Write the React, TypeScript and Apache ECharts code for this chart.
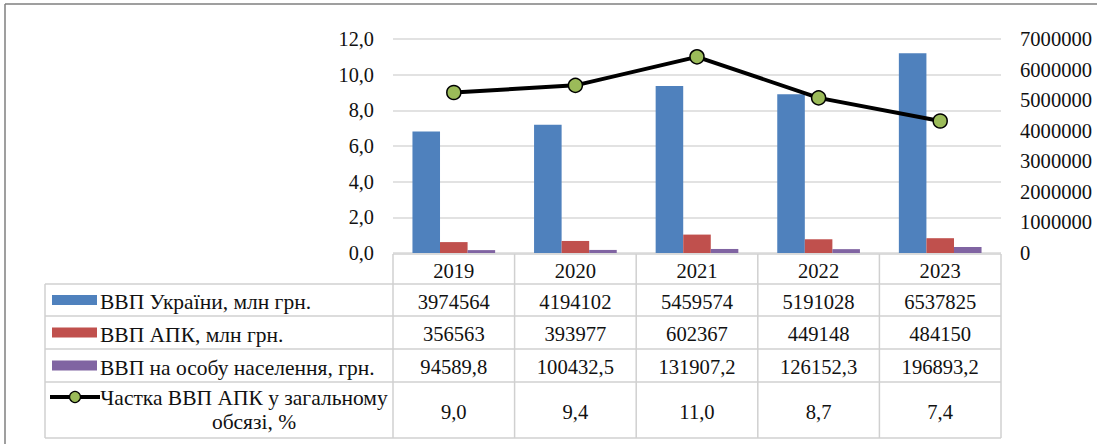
import React, { useEffect, useRef } from "react";
import * as echarts from "echarts";

const years = ["2019", "2020", "2021", "2022", "2023"];
const gdpUkraine = [3974564, 4194102, 5459574, 5191028, 6537825];
const gdpAgro = [356563, 393977, 602367, 449148, 484150];
const gdpPerCapita = [94589.8, 100432.5, 131907.2, 126152.3, 196893.2];
const agroShare = [9.0, 9.4, 11.0, 8.7, 7.4];

const seriesNames = [
  "ВВП України, млн грн.",
  "ВВП АПК, млн грн.",
  "ВВП на особу населення, грн.",
];
const shareNameLine1 = "Частка ВВП АПК у загальному";
const shareNameLine2 = "обсязі, %";

const W = 1097;
const H = 444;
const FONT = "'Liberation Serif', serif";
const BLUE = "#4F81BD";
const RED = "#C0504D";
const PURPLE = "#8064A2";
const GREEN = "#9BBB59";
const GRID_COLOR = "#D9D9D9";
const TABLE_COLOR = "#D0D0D0";
const TEXT = "#111";

// layout
const PLOT_L = 393;
const PLOT_R = 1001;
const PLOT_T = 39;
const PLOT_B = 253;
const TABLE_L = 45;
const HEADER_T = 254;
const ROW_Y = [284, 316, 349, 382, 438];

const fmt1 = (v: number) => v.toFixed(1).replace(".", ",");

export default function App() {
  const ref = useRef<HTMLDivElement>(null);
  useEffect(() => {
    if (!ref.current) return;
    const chart = echarts.init(ref.current, null, { renderer: "svg" });
    const n = years.length;
    const colW = (PLOT_R - PLOT_L) / n;
    const colX = years.map((_, i) => PLOT_L + colW * i);
    const lineStyle = { stroke: TABLE_COLOR, lineWidth: 1.5 };
    const g: any[] = [];

    // outer frame
    g.push({ type: "line", shape: { x1: 5, y1: 4, x2: W, y2: 4 }, style: { stroke: "#7F7F7F", lineWidth: 1.5 }, silent: true });
    g.push({ type: "line", shape: { x1: 5, y1: 4, x2: 5, y2: H }, style: { stroke: "#7F7F7F", lineWidth: 1.5 }, silent: true });

    // table horizontal lines
    g.push({ type: "line", shape: { x1: PLOT_L, y1: HEADER_T, x2: PLOT_R, y2: HEADER_T }, style: lineStyle, silent: true });
    ROW_Y.forEach((y) => {
      g.push({ type: "line", shape: { x1: TABLE_L, y1: y, x2: PLOT_R, y2: y }, style: lineStyle, silent: true });
    });
    // vertical lines
    g.push({ type: "line", shape: { x1: TABLE_L, y1: ROW_Y[0], x2: TABLE_L, y2: ROW_Y[4] }, style: lineStyle, silent: true });
    for (let i = 0; i <= n; i++) {
      const x = PLOT_L + colW * i;
      g.push({ type: "line", shape: { x1: x, y1: HEADER_T, x2: x, y2: ROW_Y[4] }, style: lineStyle, silent: true });
    }

    const textEl = (x: number, y: number, text: string, align: string = "center", size: number = 20.6) => ({
      type: "text",
      x,
      y,
      silent: true,
      style: { text, fill: TEXT, fontFamily: FONT, fontSize: size, textAlign: align, textVerticalAlign: "middle" },
    });

    // header
    years.forEach((yr, i) => g.push(textEl(colX[i] + colW / 2, (HEADER_T + ROW_Y[0]) / 2 + 1.5, yr)));

    const rows: string[][] = [
      gdpUkraine.map((v) => String(v)),
      gdpAgro.map((v) => String(v)),
      gdpPerCapita.map(fmt1),
      agroShare.map(fmt1),
    ];
    rows.forEach((vals, r) => {
      const cy = (ROW_Y[r] + ROW_Y[r + 1]) / 2 + 1.5;
      vals.forEach((v, i) => g.push(textEl(colX[i] + colW / 2, cy, v)));
    });

    // legend keys & names
    const keyColors = [BLUE, RED, PURPLE];
    keyColors.forEach((c, r) => {
      const cy = (ROW_Y[r] + ROW_Y[r + 1]) / 2;
      g.push({ type: "rect", shape: { x: 52, y: cy - 5, width: 45, height: 10 }, style: { fill: c }, silent: true });
      g.push(textEl(100, cy + 2, seriesNames[r], "left", 21.5));
    });
    const ly = 397;
    g.push({ type: "line", shape: { x1: 50, y1: ly, x2: 100, y2: ly }, style: { stroke: "#000", lineWidth: 4 }, silent: true });
    g.push({ type: "circle", shape: { cx: 75, cy: ly, r: 5.5 }, style: { fill: GREEN, stroke: "#000", lineWidth: 1.3 }, silent: true });
    g.push(textEl(244, ly + 1, shareNameLine1, "center", 21.5));
    g.push(textEl(254, ly + 25, shareNameLine2, "center", 21.5));

    chart.setOption({
      animation: false,
      textStyle: { fontFamily: FONT },
      graphic: g,
      grid: { left: PLOT_L, right: W - PLOT_R, top: PLOT_T, bottom: H - PLOT_B, containLabel: false },
      xAxis: {
        type: "category",
        data: years,
        axisLine: { show: false },
        axisTick: { show: false },
        axisLabel: { show: false },
      },
      yAxis: [
        {
          type: "value",
          min: 0,
          max: 12,
          interval: 2,
          axisLine: { show: false },
          axisTick: { show: false },
          axisLabel: {
            formatter: (v: number) => fmt1(v),
            color: TEXT,
            fontFamily: FONT,
            fontSize: 20.3,
            margin: 19,
          },
          splitLine: { lineStyle: { color: GRID_COLOR, width: 1.5 } },
        },
        {
          type: "value",
          min: 0,
          max: 7000000,
          interval: 1000000,
          position: "right",
          axisLine: { show: false },
          axisTick: { show: false },
          axisLabel: {
            color: TEXT,
            fontFamily: FONT,
            fontSize: 20.6,
            margin: 19,
            formatter: (v: number) => String(v),
          },
          splitLine: { show: false },
        },
      ],
      series: [
        { name: seriesNames[0], type: "bar", yAxisIndex: 1, data: gdpUkraine, itemStyle: { color: BLUE }, barGap: "0%", barCategoryGap: "32%" },
        { name: seriesNames[1], type: "bar", yAxisIndex: 1, data: gdpAgro, itemStyle: { color: RED }, barGap: "0%", barCategoryGap: "32%" },
        { name: seriesNames[2], type: "bar", yAxisIndex: 1, data: gdpPerCapita, itemStyle: { color: PURPLE }, barGap: "0%", barCategoryGap: "32%" },
        {
          name: shareNameLine1 + " " + shareNameLine2,
          type: "line",
          yAxisIndex: 0,
          data: agroShare,
          z: 5,
          symbol: "circle",
          symbolSize: 14,
          lineStyle: { color: "#000", width: 4 },
          itemStyle: { color: GREEN, borderColor: "#000", borderWidth: 1.5 },
        },
      ],
    });
    return () => chart.dispose();
  }, []);
  return <div ref={ref} style={{ position: "absolute", left: 0, top: 0, width: W, height: H, background: "#fff" }} />;
}
